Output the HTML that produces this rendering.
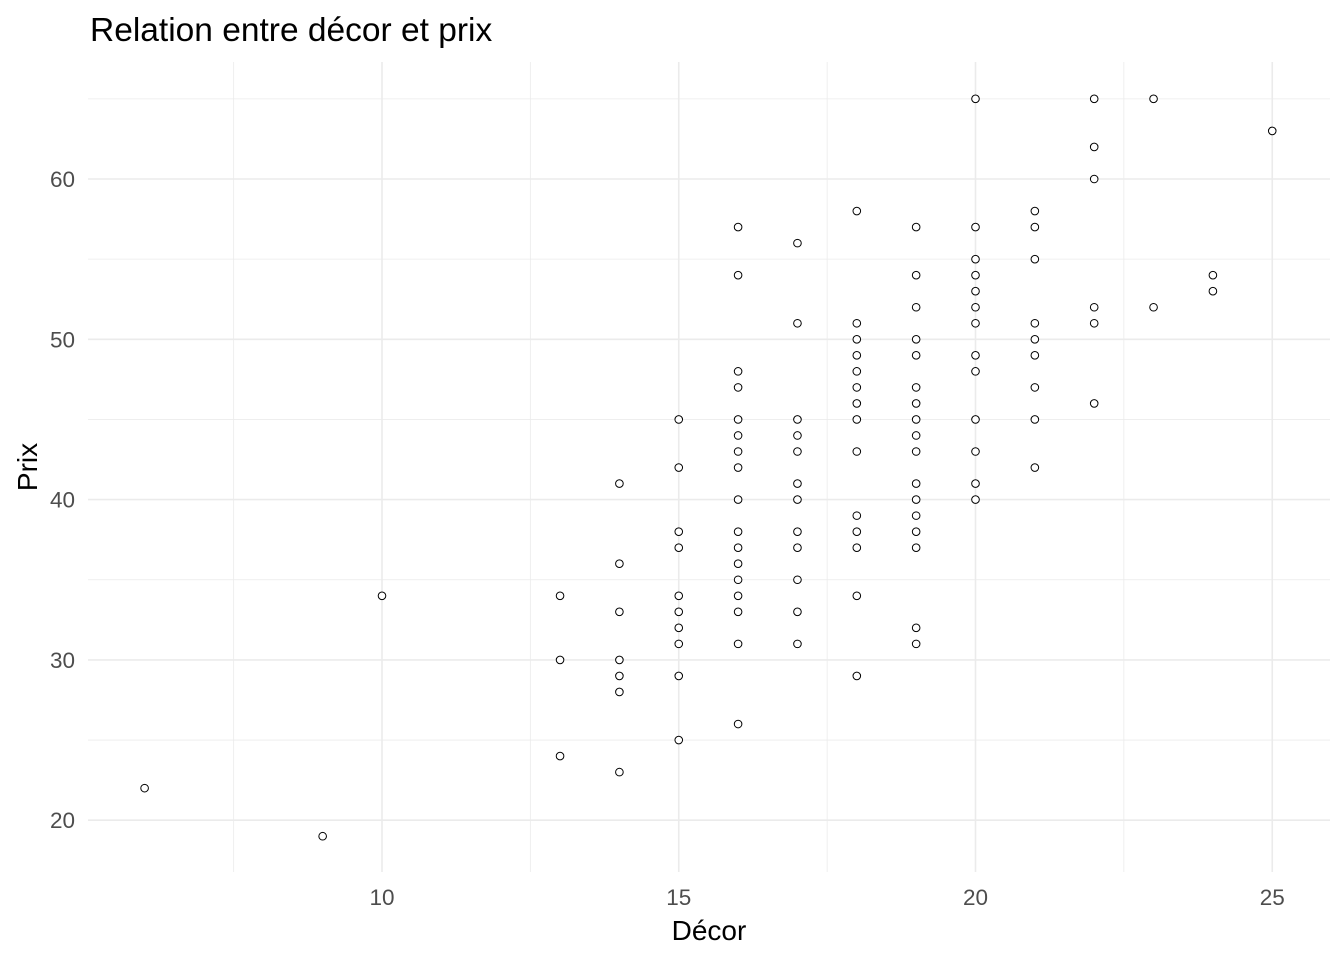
<!DOCTYPE html>
<html><head><meta charset="utf-8"><style>
body{margin:0;background:#fff}
svg text{font-family:"Liberation Sans",sans-serif}
</style></head><body>
<svg id="chart" width="1344" height="960" xmlns="http://www.w3.org/2000/svg">
<rect width="1344" height="960" fill="#fff"/>
<text x="90" y="41" style="font-size:33.5px" fill="#000">Relation entre décor et prix</text>
<g id="grid"></g>
<g id="points"></g>
<g id="ticks"></g>
<text x="709" y="940" style="font-size:28px" text-anchor="middle" fill="#000">Décor</text>
<text transform="translate(37,467) rotate(-90)" style="font-size:28px" text-anchor="middle" fill="#000">Prix</text>
</svg>
<script>
const decorValues = [6,9,10,13,13,13,14,14,14,14,14,14,14,15,15,15,15,15,15,15,15,15,15,
16,16,16,16,16,16,16,16,16,16,16,16,16,16,16,16,16,
17,17,17,17,17,17,17,17,17,17,17,17,
18,18,18,18,18,18,18,18,18,18,18,18,18,18,
19,19,19,19,19,19,19,19,19,19,19,19,19,19,19,19,19,
20,20,20,20,20,20,20,20,20,20,20,20,20,
21,21,21,21,21,21,21,21,21,
22,22,22,22,22,22,23,23,24,24,25];
const prixValues = [22,19,34,34,30,24,41,36,33,30,29,28,23,45,42,38,37,34,33,32,31,29,25,
57,54,48,47,45,44,43,42,40,38,37,36,35,34,33,31,26,
56,51,45,44,43,41,40,38,37,35,33,31,
58,51,50,49,48,47,46,45,43,39,38,37,34,29,
57,54,52,50,49,47,46,45,44,43,41,40,39,38,37,32,31,
65,57,55,54,53,52,51,49,48,45,43,41,40,
58,57,55,51,50,49,47,45,42,
65,62,60,52,51,46,65,52,54,53,63];
const xTicks = [10,15,20,25];
const xMinor = [7.5,12.5,17.5,22.5];
const yTicks = [20,30,40,50,60];
const yMinor = [25,35,45,55,65];

const NS="http://www.w3.org/2000/svg";
const L=88,R=1330,T=62,B=872;
const sx=v=>382+(v-10)*59.35;
const sy=v=>179-(v-60)*16.03;
function mk(tag,attrs,parent){const e=document.createElementNS(NS,tag);for(const k in attrs)e.setAttribute(k,attrs[k]);document.getElementById(parent).appendChild(e);return e;}
yMinor.forEach(v=>{const e=mk('line',{x1:L,x2:R,y1:sy(v),y2:sy(v),stroke:'#ebebeb','stroke-width':0.8},'grid');

});
xMinor.forEach(v=>{const e=mk('line',{x1:sx(v),x2:sx(v),y1:T,y2:B,stroke:'#ebebeb','stroke-width':0.8},'grid');

});
yTicks.forEach(v=>{const e=mk('line',{x1:L,x2:R,y1:sy(v),y2:sy(v),stroke:'#ebebeb','stroke-width':1.6},'grid');


const t=mk('text',{x:75,y:sy(v)+8,'text-anchor':'end',style:'font-size:22.5px',fill:'#4d4d4d'},'ticks');t.textContent=v;

});
xTicks.forEach(v=>{const e=mk('line',{x1:sx(v),x2:sx(v),y1:T,y2:B,stroke:'#ebebeb','stroke-width':1.6},'grid');


const t=mk('text',{x:sx(v),y:905,'text-anchor':'middle',style:'font-size:22.5px',fill:'#4d4d4d'},'ticks');t.textContent=v;

});
decorValues.forEach((d,i)=>{const c=mk('circle',{cx:sx(d),cy:sy(prixValues[i]),r:3.8,fill:'#fff',stroke:'#000','stroke-width':1},'points');

});
</script>
</body></html>
